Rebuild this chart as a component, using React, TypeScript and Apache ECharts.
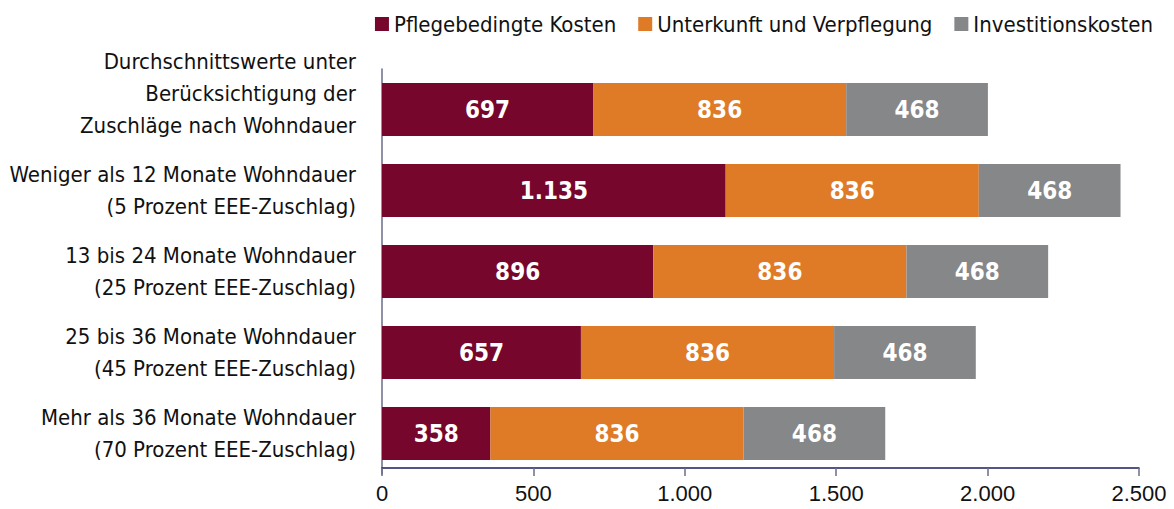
import React, { useEffect, useRef } from "react";
import * as echarts from "echarts";

const categories = [
  "Durchschnittswerte unter\nBerücksichtigung der\nZuschläge nach Wohndauer",
  "Weniger als 12 Monate Wohndauer\n(5 Prozent EEE-Zuschlag)",
  "13 bis 24 Monate Wohndauer\n(25 Prozent EEE-Zuschlag)",
  "25 bis 36 Monate Wohndauer\n(45 Prozent EEE-Zuschlag)",
  "Mehr als 36 Monate Wohndauer\n(70 Prozent EEE-Zuschlag)",
];
const pflege = [697, 1135, 896, 657, 358];
const unterkunft = [836, 836, 836, 836, 836];
const investition = [468, 468, 468, 468, 468];
const seriesNames = ["Pflegebedingte Kosten", "Unterkunft und Verpflegung", "Investitionskosten"];
const colors = ["#76062C", "#DF7A26", "#868789"];

const fmt = (v: number) => v.toString().replace(/\B(?=(\d{3})+(?!\d))/g, ".");

export default function App() {
  const ref = useRef<HTMLDivElement>(null);
  useEffect(() => {
    if (!ref.current) return;
    const chart = echarts.init(ref.current, null, { renderer: "svg" });
    const condensed = "'Liberation Sans Narrow', 'DejaVu Sans Condensed', 'Noto Sans', sans-serif";
    const mk = (name: string, data: number[], color: string) => ({
      name,
      type: "bar",
      stack: "total",
      data,
      barWidth: 53,
      itemStyle: { color },
      label: {
        show: true,
        position: "inside",
        color: "#fff",
        fontWeight: "bold",
        fontSize: 24,
        fontFamily: condensed,
        formatter: (p: any) => fmt(p.value),
      },
    });
    chart.setOption({
      animation: false,
      legend: {
        top: 8,
        right: 16,
        icon: "rect",
        itemWidth: 14,
        itemHeight: 14,
        itemGap: 22,
        textStyle: { fontSize: 22, color: "#111", fontFamily: condensed },
        data: seriesNames,
      },
      grid: { left: 382, right: 35, top: 69, bottom: 35, containLabel: false },
      xAxis: {
        type: "value",
        min: 0,
        max: 2500,
        interval: 500,
        offset: -6,
        axisLine: { show: true, lineStyle: { color: "#1D1D5C", width: 1.5 } },
        axisTick: { show: true, length: 8, lineStyle: { color: "#6A6C8A", width: 1.5 } },
        splitLine: { show: false },
        axisLabel: {
          fontSize: 22,
          color: "#111",
          margin: 14,
          fontFamily: "'Liberation Sans', Arial, sans-serif",
          formatter: (v: number) => fmt(v),
        },
      },
      yAxis: {
        type: "category",
        inverse: true,
        data: categories,
        axisLine: { show: true, lineStyle: { color: "#6A6C8A", width: 1.5 } },
        axisTick: { show: false },
        axisLabel: {
          interval: 0,
          hideOverlap: false,
          fontSize: 22,
          lineHeight: 32,
          color: "#111",
          margin: 26,
          fontFamily: condensed,
          align: "right",
          formatter: (v: string, i: number) => (i === 0 ? v + "\n" : v),
        },
      },
      series: [
        mk(seriesNames[0], pflege, colors[0]),
        mk(seriesNames[1], unterkunft, colors[1]),
        mk(seriesNames[2], investition, colors[2]),
      ],
    });
    return () => chart.dispose();
  }, []);
  return <div ref={ref} style={{ width: 1174, height: 509, position: "absolute", left: 0, top: 0 }} />;
}
